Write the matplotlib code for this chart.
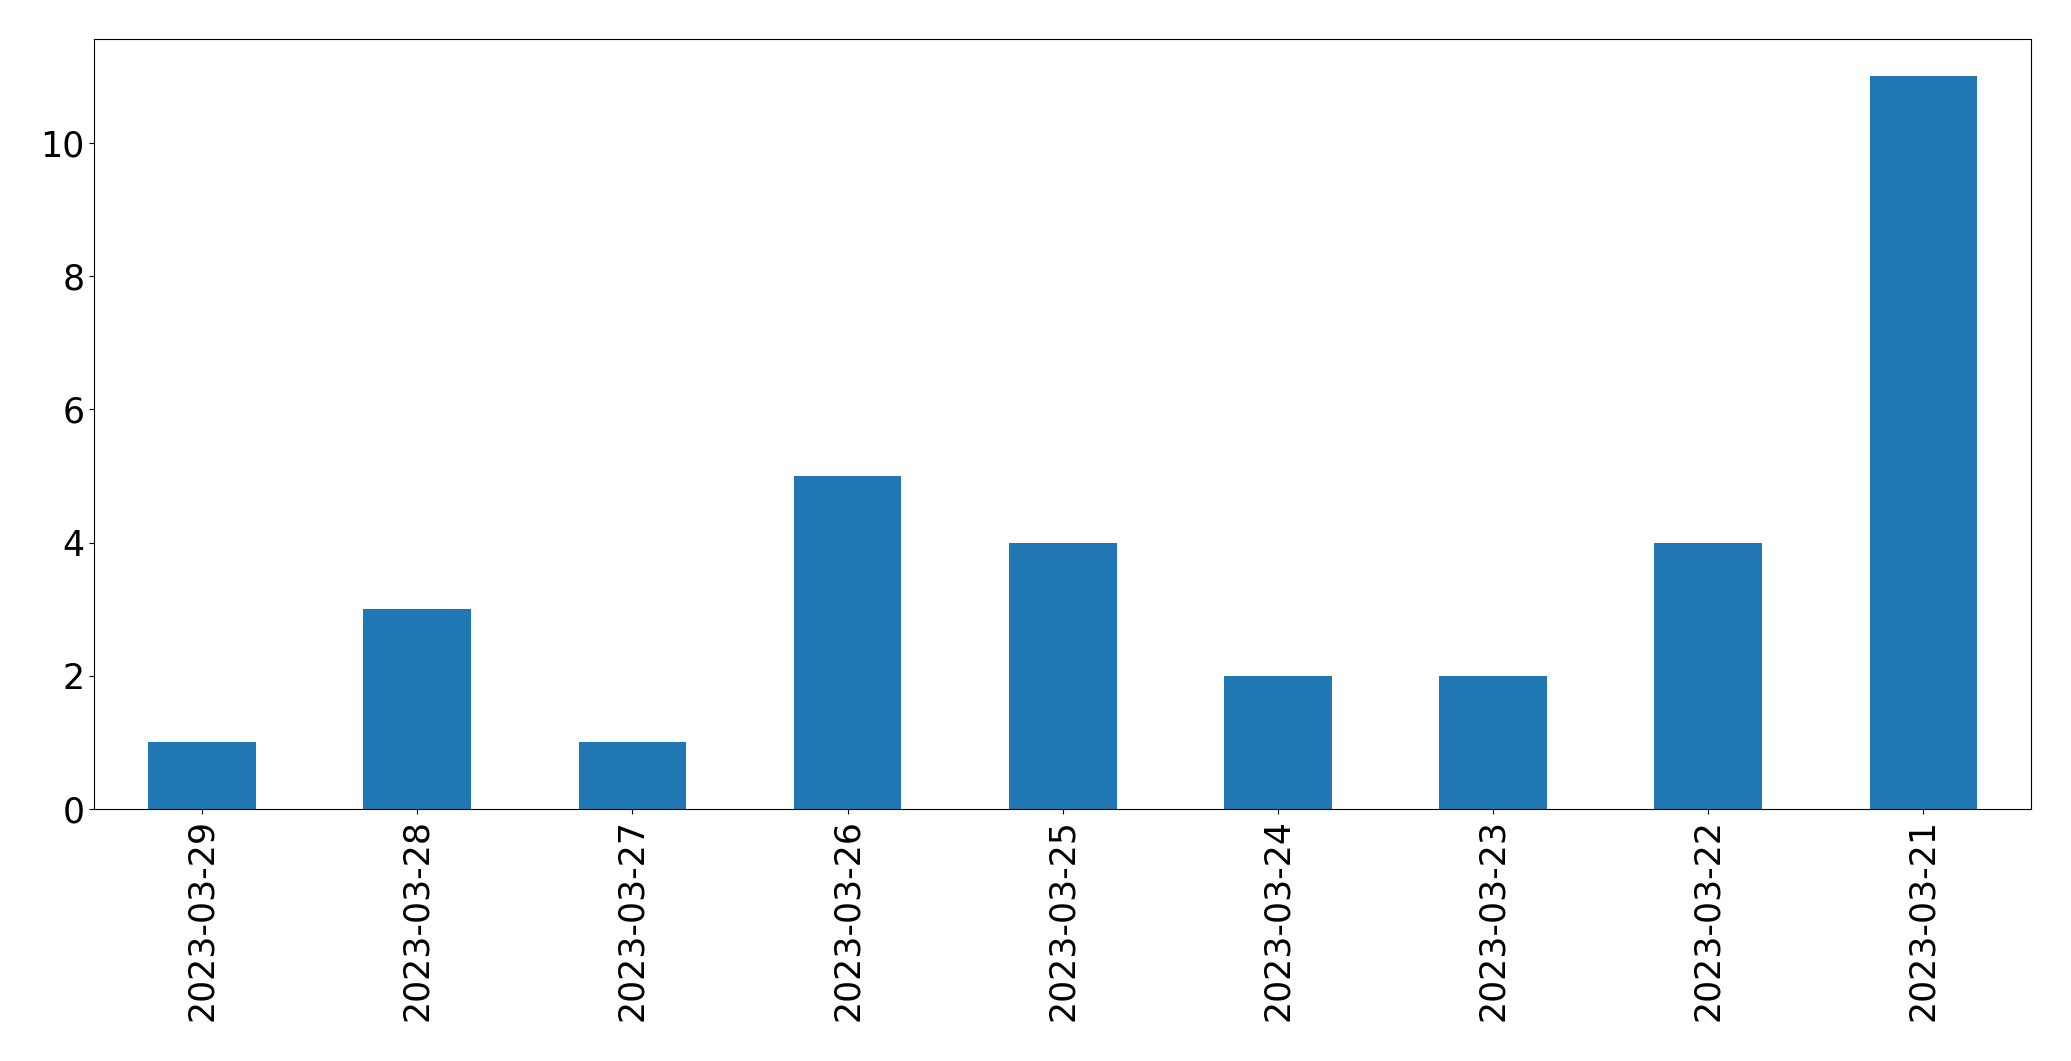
import matplotlib
matplotlib.use("Agg")
import matplotlib.pyplot as plt

dates = ["2023-03-29", "2023-03-28", "2023-03-27", "2023-03-26", "2023-03-25",
         "2023-03-24", "2023-03-23", "2023-03-22", "2023-03-21"]
counts = [1, 3, 1, 5, 4, 2, 2, 4, 11]

fig = plt.figure(figsize=(20.71, 10.61), dpi=100)
ax = fig.add_axes([0.0456, 0.2375, 0.9351, 0.7253])
x = list(range(len(dates)))
ax.bar(x, counts, width=0.5, color="#1f77b4")
ax.set_xlim(-0.5, len(dates) - 0.5)
ax.set_ylim(0, max(counts) * 1.05)
ax.set_xticks(x)
ax.set_xticklabels(dates, rotation=90)
ax.set_yticks([0, 2, 4, 6, 8, 10])
ax.tick_params(labelsize=25)
fig.savefig("out.png", dpi=100)
